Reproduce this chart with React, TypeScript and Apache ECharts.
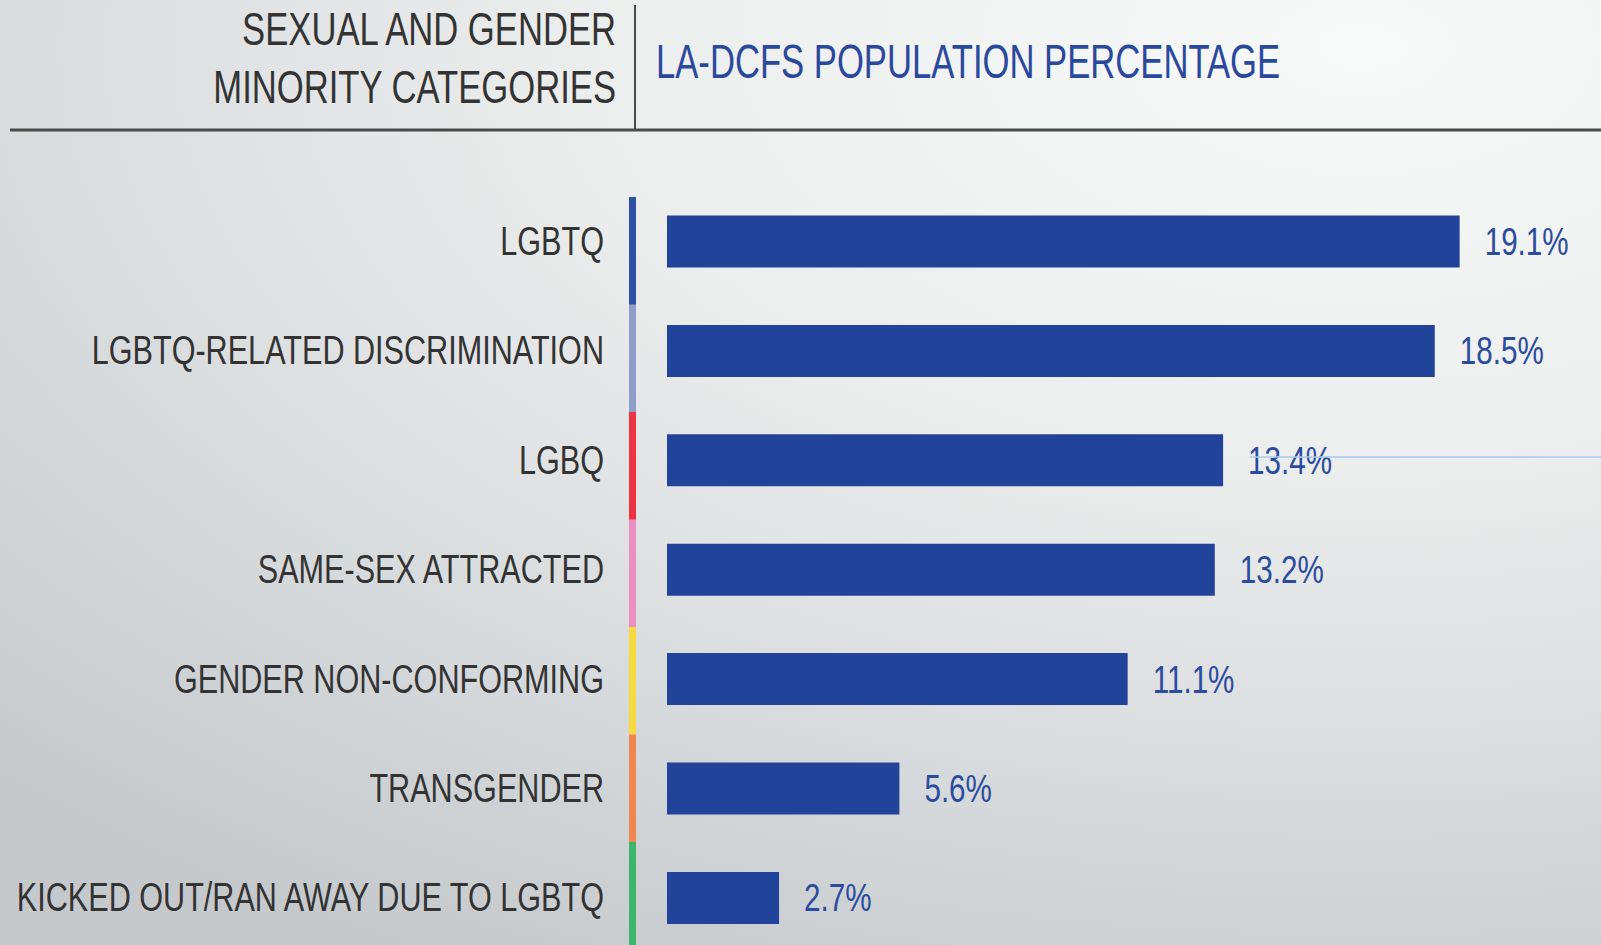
import React, { useEffect, useRef } from "react";
import * as echarts from "echarts";

const categories = [
  "LGBTQ",
  "LGBTQ-RELATED DISCRIMINATION",
  "LGBQ",
  "SAME-SEX ATTRACTED",
  "GENDER NON-CONFORMING",
  "TRANSGENDER",
  "KICKED OUT/RAN AWAY DUE TO LGBTQ",
];
const values = [19.1, 18.5, 13.4, 13.2, 11.1, 5.6, 2.7];
const stripeColors = ["#2f50a4", "#8c9fcb", "#ee3442", "#ea8fc4", "#f6da3e", "#ee8750", "#3fb46c"];
const headerLeft = ["SEXUAL AND GENDER", "MINORITY CATEGORIES"];
const headerRight = "LA-DCFS POPULATION PERCENTAGE";

const W = 1601;
const H = 945;
const FONT = "'Liberation Sans', Arial, sans-serif";

export default function App() {
  const ref = useRef<HTMLDivElement>(null);
  useEffect(() => {
    document.body.style.margin = "0";
    const chart = echarts.init(ref.current!, undefined, { renderer: "svg" });
    const stripeTop = 197;
    const stripeH = 107.5;
    const graphics: any[] = [];
    stripeColors.forEach((c, i) => {
      graphics.push({
        type: "rect",
        shape: { x: 629, y: stripeTop + i * stripeH, width: 7, height: i === stripeColors.length - 1 ? 200 : stripeH + 0.5 },
        style: { fill: c },
        silent: true,
      });
    });
    graphics.push(
      { type: "line", shape: { x1: 10, y1: 130, x2: W, y2: 130 }, style: { stroke: "#4a4a4a", lineWidth: 3 } },
      { type: "line", shape: { x1: 635, y1: 5, x2: 635, y2: 129 }, style: { stroke: "#4a4a4a", lineWidth: 2 } },
      {
        type: "text", x: 616, y: 29, scaleX: 0.737,
        style: { text: headerLeft[0], font: "47px " + FONT, fill: "#333333", align: "right", verticalAlign: "middle" },
      },
      {
        type: "text", x: 616, y: 87, scaleX: 0.737,
        style: { text: headerLeft[1], font: "47px " + FONT, fill: "#333333", align: "right", verticalAlign: "middle" },
      },
      {
        type: "text", x: 656, y: 61, scaleX: 0.707,
        style: { text: headerRight, font: "49px " + FONT, fill: "#2a499e", align: "left", verticalAlign: "middle" },
      },
      { type: "line", z: 100, shape: { x1: 1250, y1: 457, x2: W, y2: 457 }, style: { stroke: "#a6cbef", lineWidth: 1.5 } }
    );

    chart.setOption({
      animation: false,
      backgroundColor: "transparent",
      grid: { left: 667, width: 830, top: 186.8, height: 765.8, containLabel: false, outerBoundsMode: "none" },
      xAxis: { type: "value", min: 0, max: 20, show: false },
      yAxis: {
        type: "category",
        data: categories,
        inverse: true,
        axisLine: { show: false },
        axisTick: { show: false },
        splitLine: { show: false },
        axisLabel: { show: false },
      },
      series: [
        {
          type: "bar",
          data: values,
          barWidth: 52,
          itemStyle: { color: "#21439a" },
        },
        {
          type: "custom",
          name: "valueLabels",
          data: values.map((v, i) => [v, i]),
          encode: { x: 0, y: 1 },
          silent: true,
          renderItem: (_params: any, api: any) => {
            const v = api.value(0);
            const p = api.coord([v, api.value(1)]);
            return {
              type: "text",
              x: p[0] + 25,
              y: p[1],
              scaleX: 0.76,
              style: {
                text: v.toFixed(1) + "%",
                font: "39px " + FONT,
                fill: "#2b4c9e",
                align: "left",
                verticalAlign: "middle",
              },
            };
          },
        },
        {
          type: "custom",
          name: "categoryLabels",
          data: categories.map((_c, i) => [0, i]),
          encode: { x: 0, y: 1 },
          silent: true,
          renderItem: (params: any, api: any) => {
            const p = api.coord([0, api.value(1)]);
            return {
              type: "text",
              x: p[0] - 63,
              y: p[1],
              scaleX: 0.765,
              style: {
                text: categories[params.dataIndex],
                font: "40px " + FONT,
                fill: "#333333",
                align: "right",
                verticalAlign: "middle",
              },
            };
          },
        },
      ],
      graphic: graphics,
    });
    return () => chart.dispose();
  }, []);
  return (
    <div
      ref={ref}
      style={{
        width: W,
        height: H,
        background: "radial-gradient(ellipse 120% 110% at 85% 5%, #f8f9f9 0%, #eceded 40%, #d6d9db 75%, #c6c9cc 100%)",
      }}
    />
  );
}
